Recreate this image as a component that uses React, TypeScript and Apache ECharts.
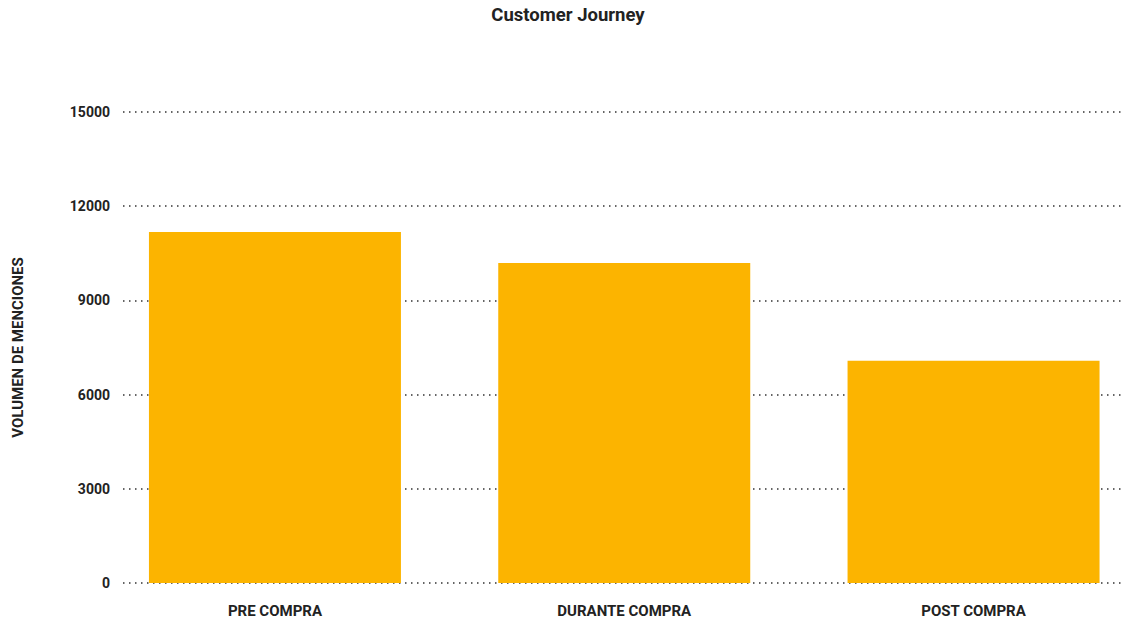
import React, { useEffect, useRef } from "react";
import * as echarts from "echarts";

const categories = ["PRE COMPRA", "DURANTE COMPRA", "POST COMPRA"];
const values = [11180, 10190, 7080];
const yTicks = [0, 3000, 6000, 9000, 12000, 15000];

export default function App() {
  const ref = useRef<HTMLDivElement>(null);
  useEffect(() => {
    if (!ref.current) return;
    const chart = echarts.init(ref.current, null, { renderer: "svg" });
    const font = "Roboto";
    chart.setOption({
      animation: false,
      backgroundColor: "#ffffff",
      title: {
        text: "Customer Journey",
        left: "center",
        top: 0,
        textStyle: { fontFamily: font, fontSize: 18.5, fontWeight: "bold", color: "#222222" },
      },
      grid: {
        left: 123,
        right: 14,
        top: 112,
        bottom: 39,
        containLabel: false,
        outerBoundsMode: "none",
      },
      xAxis: {
        type: "value",
        min: -0.435,
        max: 2.425,
        axisLine: { show: false },
        axisTick: { show: false },
        splitLine: { show: false },
        axisLabel: {
          customValues: [0, 1, 2],
          formatter: (v: number) => categories[Math.round(v)] ?? "",
          fontFamily: font,
          fontSize: 15,
          fontWeight: "bold",
          color: "#222222",
          margin: 20,
        },
      },
      yAxis: {
        type: "value",
        min: yTicks[0],
        max: yTicks[yTicks.length - 1],
        interval: 3000,
        name: "VOLUMEN DE MENCIONES",
        nameLocation: "middle",
        nameGap: 98,
        nameRotate: 90,
        nameTextStyle: { fontFamily: font, fontSize: 15, fontWeight: "bold", color: "#222222" },
        axisLine: { show: false },
        axisTick: { show: false },
        axisLabel: {
          formatter: (v: number) => String(v),
          fontFamily: font,
          fontSize: 14,
          fontWeight: "bold",
          color: "#222222",
          margin: 13,
        },
        splitLine: {
          show: true,
          lineStyle: { color: "#333333", width: 1.5, type: [1.5, 4.5] },
        },
      },
      series: [
        {
          type: "bar",
          data: values.map((v, i) => [i, v]),
          barWidth: 252,
          itemStyle: { color: "#FCB400" },
          z: 3,
        },
      ],
    });
    return () => chart.dispose();
  }, []);
  return (
    <div
      ref={ref}
      style={{ position: "fixed", left: 0, top: 0, width: 1136, height: 622 }}
    />
  );
}
